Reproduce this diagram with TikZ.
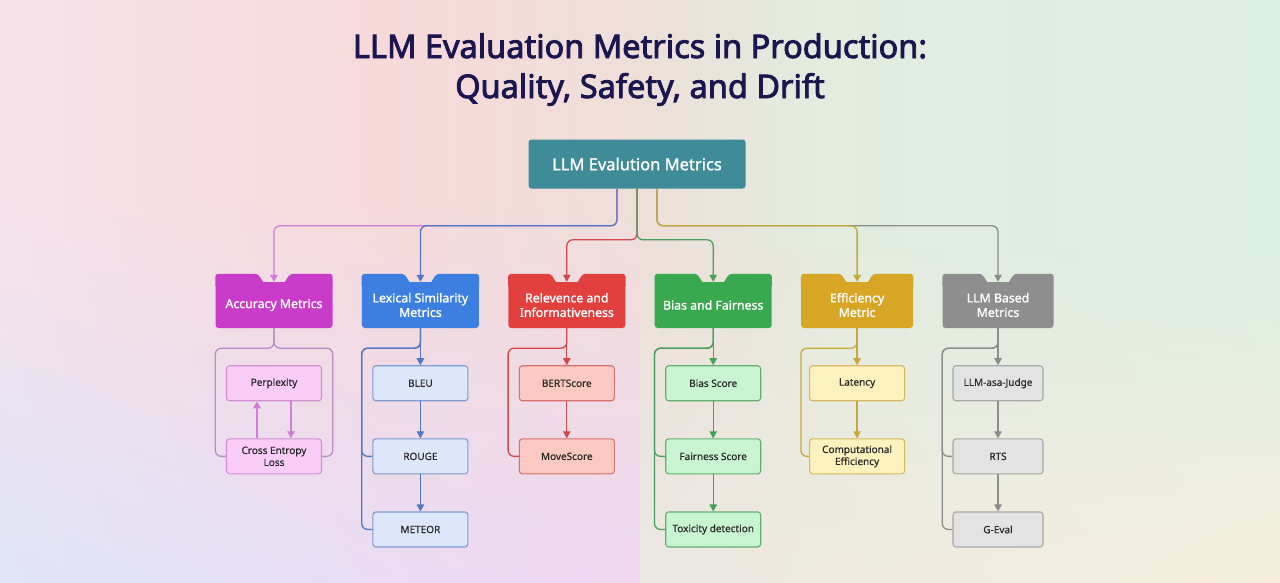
\documentclass[tikz,border=0pt]{standalone}
\usepackage{fontspec}
\setmainfont{Noto Sans}
\newfontfamily\titlefont{Noto Sans}[FakeBold=2.6]
\newfontfamily\boxfont{Noto Sans}[FakeBold=1.4]
\newfontfamily\metricfont{Noto Sans}[FakeBold=0.6]
\usetikzlibrary{arrows.meta,positioning,shadings}
% background
\definecolor{bgtl}{HTML}{F6E2EA}
\definecolor{bgtp}{HTML}{F7D9DA}
\definecolor{bgtm}{HTML}{EEDFD9}
\definecolor{bgtg}{HTML}{E2ECDF}
\definecolor{bgtr}{HTML}{DCEFE3}
\definecolor{bgbl}{HTML}{DFE4F6}
\definecolor{bgbp}{HTML}{E9DCF3}
\definecolor{bgbm}{HTML}{F1D7F1}
\definecolor{bgbg}{HTML}{EBE8E3}
\definecolor{bgbr}{HTML}{F5EEDC}
\pgfdeclarehorizontalshading{bgtop}{100bp}{color(0bp)=(bgtl); color(25bp)=(bgtl); color(40bp)=(bgtp); color(50bp)=(bgtm); color(57bp)=(bgtg); color(75bp)=(bgtr); color(100bp)=(bgtr)}
% boxes
\definecolor{titlecol}{HTML}{1B1650}
\definecolor{rootcol}{HTML}{3F8B98}
\definecolor{acccol}{HTML}{C93CC9}
\definecolor{lexcol}{HTML}{3D7FE0}
\definecolor{relcol}{HTML}{E2403E}
\definecolor{biascol}{HTML}{3AA84F}
\definecolor{effcol}{HTML}{D6A624}
\definecolor{llmcol}{HTML}{8E8E8E}
\definecolor{accsub}{HTML}{F9CDF7}
\definecolor{accedge}{HTML}{D48ED4}
\definecolor{lexsub}{HTML}{DCE7FB}
\definecolor{lexedge}{HTML}{7D9BD1}
\definecolor{relsub}{HTML}{FCC9C2}
\definecolor{reledge}{HTML}{D6706A}
\definecolor{biassub}{HTML}{C9F4D2}
\definecolor{biasedge}{HTML}{62B070}
\definecolor{effsub}{HTML}{FDF1BD}
\definecolor{effedge}{HTML}{D8B860}
\definecolor{llmsub}{HTML}{E3E3E3}
\definecolor{llmedge}{HTML}{A8A8A8}
\definecolor{subtext}{HTML}{2A2A2A}
% lines
\definecolor{accline}{HTML}{D27ED8}
\definecolor{accbr}{HTML}{B98CC8}
\definecolor{lexline}{HTML}{5078C0}
\definecolor{relline}{HTML}{D04848}
\definecolor{biasline}{HTML}{48A058}
\definecolor{effline}{HTML}{C8A838}
\definecolor{llmline}{HTML}{8C8C8C}
\tikzset{
  rootbox/.style={fill=rootcol, text=white, rounded corners=3pt, minimum width=217pt, minimum height=49pt, font=\boxfont\fontsize{16.5}{19}\selectfont},
  catbox/.style={text=white, rounded corners=3pt, align=center, minimum width=117pt, minimum height=46pt, inner sep=2pt, font=\boxfont\fontsize{12.3}{14.5}\selectfont},
  subbox/.style={line width=1.1pt, rounded corners=3pt, align=center, minimum width=95pt, minimum height=35pt, inner sep=2pt, text=subtext, font=\metricfont\fontsize{10}{12}\selectfont},
  accsubbox/.style={subbox, fill=accsub, draw=accedge},
  lexsubbox/.style={subbox, fill=lexsub, draw=lexedge},
  relsubbox/.style={subbox, fill=relsub, draw=reledge},
  biassubbox/.style={subbox, fill=biassub, draw=biasedge},
  effsubbox/.style={subbox, fill=effsub, draw=effedge},
  llmsubbox/.style={subbox, fill=llmsub, draw=llmedge, minimum width=90pt},
  titletext/.style={anchor=base, text=titlecol, font=\titlefont\fontsize{32.5}{38}\selectfont},
  link/.style={line width=1.3pt, rounded corners=6pt},
  arr/.style={link, -{Triangle[length=7pt,width=7.5pt]}}
}
% the two raised tabs on top of a category box
\newcommand{\catears}[2]{%
  \fill[#2] ([yshift=-4pt]#1.north west) [rounded corners=3pt]-- ([yshift=8pt]#1.north west) -- ([xshift=-16pt,yshift=8pt]#1.north) [sharp corners]-- ([xshift=-11pt]#1.north) -- ([xshift=-11pt,yshift=-4pt]#1.north) -- cycle;
  \fill[#2] ([yshift=-4pt]#1.north east) [rounded corners=3pt]-- ([yshift=8pt]#1.north east) -- ([xshift=16pt,yshift=8pt]#1.north) [sharp corners]-- ([xshift=11pt]#1.north) -- ([xshift=11pt,yshift=-4pt]#1.north) -- cycle;}
\begin{document}
\begin{tikzpicture}[x=1pt, y=-1pt, node distance=37pt and 29pt]
  % background
  \shade[shading=bgtop] (0,0) rectangle (1280,582);
  \shade[upper left=bgtl, upper right=bgtp, lower left=bgbl, lower right=bgbp] (0,200) rectangle (384,582);
  \shade[upper left=bgtp, upper right=bgtm, lower left=bgbp, lower right=bgbm] (384,200) rectangle (640,582);
  \shade[upper left=bgtm, upper right=bgtg, lower left=bgbg, lower right=bgbg!60!bgbr] (640,250) rectangle (864,582);
  \shade[upper left=bgtg, upper right=bgtr, lower left=bgbg!60!bgbr, lower right=bgbr] (864,250) rectangle (1280,582);
  \useasboundingbox (0,0) rectangle (1280,582);

  % title
  \node[titletext] (title1) at (640,58) {LLM Evaluation Metrics in Production:};
  \node[titletext] (title2) at (640,98) {Quality, Safety, and Drift};

  % root and categories
  \node[rootbox] (root) at (637,164) {LLM Evalution Metrics};
  \node[catbox, fill=acccol] (acc) at (274,305) {Accuracy Metrics};
  \node[catbox, fill=lexcol, right=of acc] (lex) {Lexical Similarity\\Metrics};
  \node[catbox, fill=relcol, right=of lex] (rel) {Relevence and\\Informativeness};
  \node[catbox, fill=biascol, right=of rel] (bias) {Bias and Fairness};
  \node[catbox, fill=effcol, minimum width=112pt, right=of bias] (eff) {Efficiency\\Metric};
  \node[catbox, fill=llmcol, minimum width=111pt, right=of eff] (llm) {LLM Based\\Metrics};
  \foreach \n/\c in {acc/acccol, lex/lexcol, rel/relcol, bias/biascol, eff/effcol, llm/llmcol}
    {\catears{\n}{\c}}

  % metrics
  \node[accsubbox, below=of acc] (perp) {Perplexity};
  \node[accsubbox, below=of perp] (cel) {Cross Entropy\\Loss};
  \node[lexsubbox, below=of lex] (bleu) {BLEU};
  \node[lexsubbox, below=of bleu] (rouge) {ROUGE};
  \node[lexsubbox, below=of rouge] (meteor) {METEOR};
  \node[relsubbox, below=of rel] (bert) {BERTScore};
  \node[relsubbox, below=of bert] (move) {MoveScore};
  \node[biassubbox, below=of bias] (bscore) {Bias Score};
  \node[biassubbox, below=of bscore] (fscore) {Fairness Score};
  \node[biassubbox, below=of fscore] (tox) {Toxicity detection};
  \node[effsubbox, below=of eff] (lat) {Latency};
  \node[effsubbox, below=of lat] (comp) {Computational\\Efficiency};
  \node[llmsubbox, below=of llm] (judge) {LLM-asa-Judge};
  \node[llmsubbox, below=of judge] (rts) {RTS};
  \node[llmsubbox, below=of rts] (geval) {G-Eval};

  % root to categories
  \draw[arr, accline] ([xshift=-20pt]root.south) |- ([yshift=56pt]acc.north) -- (acc.north);
  \draw[arr, lexline] ([xshift=-20pt]root.south) |- ([yshift=56pt]lex.north) -- (lex.north);
  \draw[arr, relline] (root.south) |- ([yshift=42pt]rel.north) -- (rel.north);
  \draw[arr, biasline] (root.south) |- ([yshift=42pt]bias.north) -- (bias.north);
  \draw[arr, llmline] ([xshift=20pt]root.south) |- ([yshift=56pt]llm.north) -- (llm.north);
  \draw[arr, effline] ([xshift=20pt]root.south) |- ([yshift=56pt]eff.north) -- (eff.north);

  % accuracy
  \draw[link, accbr] (acc.south) |- ([yshift=-20pt]acc.south west) |- (cel.west);
  \draw[link, accbr] (acc.south) |- ([yshift=-20pt]acc.south east) |- (cel.east);
  \draw[arr, accline] ([xshift=-17pt]cel.north) -- ([xshift=-17pt]perp.south);
  \draw[arr, accline] ([xshift=17pt]perp.south) -- ([xshift=17pt]cel.north);

  % lexical similarity
  \draw[link, lexline] (lex.south) |- ([yshift=-20pt]lex.south west) |- (rouge.west);
  \draw[link, lexline] (lex.south) |- ([yshift=-20pt]lex.south west) |- (meteor.west);
  \draw[arr, lexline] (lex.south) -- (bleu);
  \draw[arr, lexline] (bleu) -- (rouge);
  \draw[arr, lexline] (rouge) -- (meteor);

  % relevence
  \draw[link, relline] (rel.south) |- ([yshift=-20pt]rel.south west) |- (move.west);
  \draw[arr, relline] (rel.south) -- (bert);
  \draw[arr, relline] (bert) -- (move);

  % bias and fairness
  \draw[link, biasline] (bias.south) |- ([yshift=-20pt]bias.south west) |- (fscore.west);
  \draw[link, biasline] (bias.south) |- ([yshift=-20pt]bias.south west) |- (tox.west);
  \draw[arr, biasline] (bias.south) -- (bscore);
  \draw[arr, biasline] (bscore) -- (fscore);
  \draw[arr, biasline] (fscore) -- (tox);

  % efficiency
  \draw[link, effline] (eff.south) |- ([yshift=-20pt]eff.south west) |- (comp.west);
  \draw[arr, effline] (eff.south) -- (lat);
  \draw[arr, effline] (lat) -- (comp);

  % llm based
  \draw[link, llmline] (llm.south) |- ([yshift=-20pt]llm.south west) |- (rts.west);
  \draw[link, llmline] (llm.south) |- ([yshift=-20pt]llm.south west) |- (geval.west);
  \draw[arr, llmline] (llm.south) -- (judge);
  \draw[arr, llmline] (judge) -- (rts);
  \draw[arr, llmline] (rts) -- (geval);
\end{tikzpicture}
\end{document}
